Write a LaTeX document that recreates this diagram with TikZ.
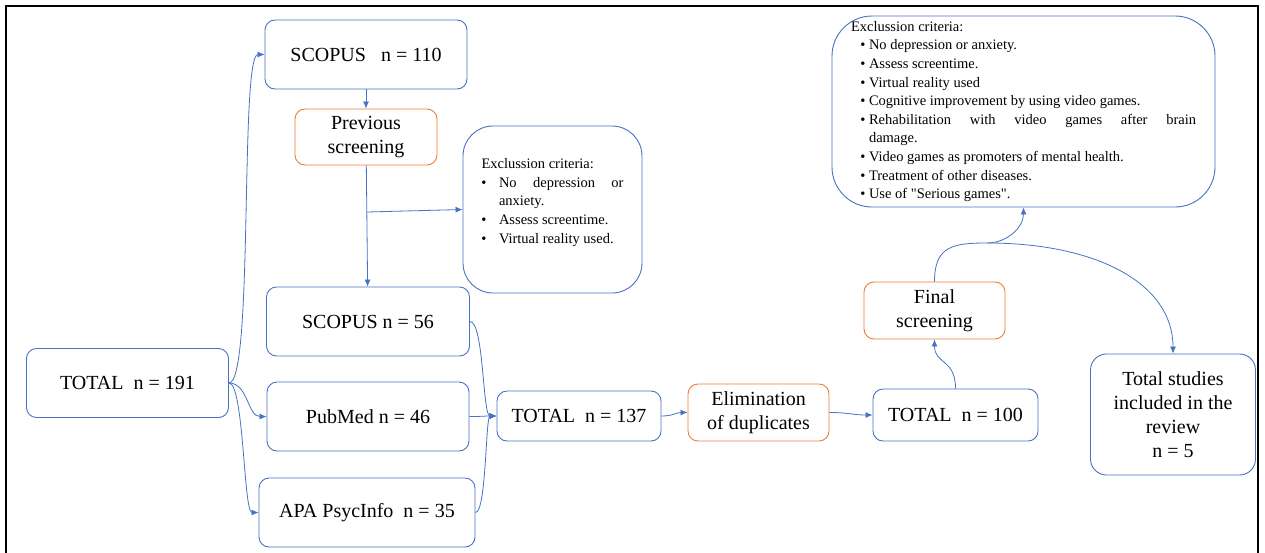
\documentclass[tikz,border=0pt]{standalone}
\usepackage{fontspec}
\setmainfont{Liberation Serif}
\usepackage{enumitem}
\usetikzlibrary{arrows.meta}
\definecolor{boxblue}{HTML}{4472C4}
\definecolor{boxorange}{HTML}{ED7D31}
\hyphenpenalty=10000
\exhyphenpenalty=10000
\tikzset{
	blkbox/.style={draw=boxblue,line width=0.9pt,rounded corners=10pt,align=center,inner sep=2pt,font=\fontsize{20}{24}\selectfont},
	orgbox/.style={blkbox,draw=boxorange},
	critbox/.style={draw=boxblue,line width=0.9pt},
	crittext/.style={align=justify,inner sep=0pt,font=\fontsize{14.5}{18.6}\selectfont},
	conn/.style={boxblue,line width=0.8pt,-{Latex[length=7pt,width=6pt]}},
}
\begin{document}
\begin{tikzpicture}[x=1pt,y=-1pt]
	\useasboundingbox (0,0) rectangle (1265,552);
	\draw[line width=1.6pt] (6,6) rectangle (1258,560);

	% sources
	\node[blkbox,minimum width=202pt,minimum height=69pt] (t191) at (127.5,383) {TOTAL\ \ n = 191};
	\node[blkbox,minimum width=202pt,minimum height=69pt] (s110) at (366,54.5) {SCOPUS\ \ \ n = 110};
	\node[orgbox,minimum width=142pt,minimum height=56pt] (prev) at (366,137) {Previous\\screening};
	\node[blkbox,minimum width=203pt,minimum height=69pt] (s56) at (368,321.5) {SCOPUS n = 56};
	\node[blkbox,minimum width=202pt,minimum height=69pt] (pubmed) at (368,416.5) {PubMed n = 46};
	\node[blkbox,minimum width=216pt,minimum height=69pt] (apa) at (367,512.5) {APA PsycInfo\ \ n = 35};

	% first criteria
	\node[critbox,rounded corners=30pt,minimum width=179pt,minimum height=167pt] (excl1) at (552.5,209.5) {};
	\node[crittext,text width=142pt] (excl1txt) at ([yshift=7pt]excl1.center) {Exclussion criteria:
		\begin{itemize}[leftmargin=17.5pt,labelsep=12.5pt,itemsep=0pt,topsep=0pt,parsep=0pt,partopsep=0pt]
		\item No depression or anxiety.
		\item Assess screentime.
		\item Virtual reality used.
		\end{itemize}};

	% merging
	\node[blkbox,minimum width=164pt,minimum height=50pt] (t137) at (579,416) {TOTAL\ \ n = 137};
	\node[orgbox,minimum width=141pt,minimum height=57pt] (elim) at (758.5,412.5) {Elimination\\of duplicates};
	\node[blkbox,minimum width=165pt,minimum height=52pt] (t100) at (955.5,415) {TOTAL\ \ n = 100};
	\node[orgbox,minimum width=141pt,minimum height=57pt] (fscr) at (934.5,310.5) {Final\\screening};
	\node[blkbox,rounded corners=16pt,minimum width=165pt,minimum height=121pt] (tstud) at (1173,414.5) {Total studies\\included in the\\review\\n = 5};

	% second criteria
	\node[critbox,rounded corners=40pt,minimum width=383pt,minimum height=191pt] (excl2) at (1023.5,111.5) {};
	\node[crittext,text width=345pt] (excl2txt) at (excl2.center) {Exclussion criteria:
		\begin{itemize}[leftmargin=18pt,labelsep=3.5pt,itemsep=0pt,topsep=0pt,parsep=0pt,partopsep=0pt]
		\item No depression or anxiety.
		\item Assess screentime.
		\item Virtual reality used
		\item Cognitive improvement by using video games.
		\item Rehabilitation with video games after brain\linebreak damage.
		\item Video games as promoters of mental health.
		\item Treatment of other diseases.
		\item Use of \textquotedbl Serious games\textquotedbl.
		\end{itemize}};

	\coordinate (br) at (367,212);
	\coordinate (jn) at (987,243);

	\draw[conn] (t191.east) .. controls +(25,0) and +(-25,0) .. (s110.west);
	\draw[conn] (t191.east) .. controls +(19,0) and +(-19,0) .. (pubmed.west);
	\draw[conn] (t191.east) .. controls +(15,0) and +(-15,0) .. (apa.west);
	\draw[conn] (s110) -- (prev);
	\draw[conn] (prev) -- (s56);
	\draw[conn] (br) -- (excl1.west);
	\draw[conn] (s56.east) .. controls +(14,0) and +(-14,0) .. (t137.west);
	\draw[conn] (pubmed.east) .. controls +(14,0) and +(-14,0) .. (t137.west);
	\draw[conn] (apa.east) .. controls +(11,0) and +(-11,0) .. (t137.west);
	\draw[conn] (t137.east) .. controls +(12,0) and +(-12,0) .. (elim.west);
	\draw[conn] (elim.east) .. controls +(20,0) and +(-20,0) .. (t100.west);
	\draw[conn] (t100.north) .. controls +(0,-30) and +(0,25) .. (fscr.south);
	\draw[boxblue,line width=0.8pt] (fscr.north) .. controls +(0,-35) and +(-35,0) .. (jn);
	\draw[conn] (jn) .. controls +(20,0) and +(0,20) .. (excl2.south);
	\draw[conn] (jn) .. controls +(110,0) and +(0,-70) .. (tstud.north);
\end{tikzpicture}
\end{document}
